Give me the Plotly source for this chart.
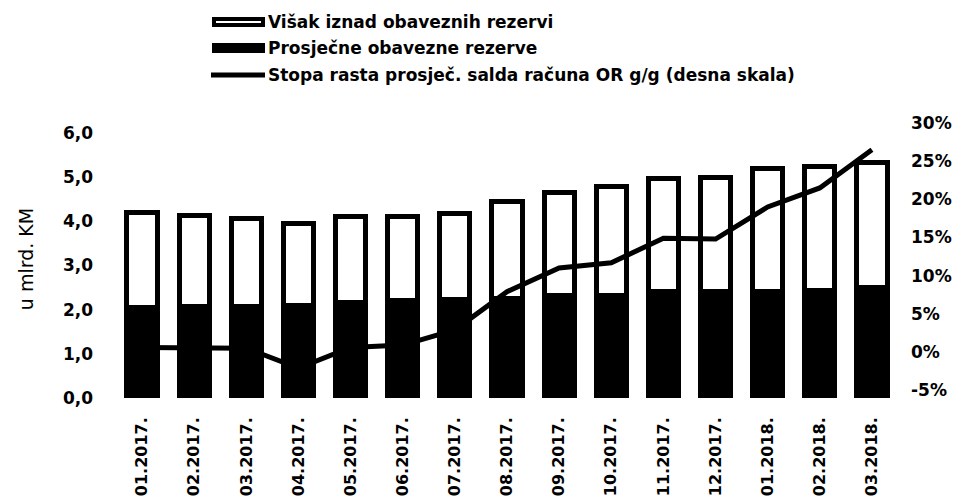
import plotly.graph_objects as go

months = ["01.2017.", "02.2017.", "03.2017.", "04.2017.", "05.2017.", "06.2017.",
          "07.2017.", "08.2017.", "09.2017.", "10.2017.", "11.2017.", "12.2017.",
          "01.2018.", "02.2018.", "03.2018."]
prosjecne_or = [2.04, 2.06, 2.08, 2.10, 2.17, 2.20, 2.24, 2.26, 2.31, 2.33, 2.40, 2.40, 2.42, 2.44, 2.49]
ukupno = [4.19, 4.12, 4.07, 3.94, 4.10, 4.10, 4.17, 4.44, 4.66, 4.78, 4.96, 5.00, 5.20, 5.23, 5.32]
visak = [round(t - r, 2) for t, r in zip(ukupno, prosjecne_or)]
stopa_rasta = [0.6, 0.5, 0.5, -2.1, 0.6, 0.9, 2.9, 7.9, 11.0, 11.7, 14.9, 14.8, 19.0, 21.5, 26.5]

left_ticks = [0, 1, 2, 3, 4, 5, 6]
left_text = ["0,0", "1,0", "2,0", "3,0", "4,0", "5,0", "6,0"]
right_ticks = [-5, 0, 5, 10, 15, 20, 25, 30]
right_text = ["-5%", "0%", "5%", "10%", "15%", "20%", "25%", "30%"]

name_visak = "Višak iznad obaveznih rezervi"
name_or = "Prosječne obavezne rezerve"
name_stopa = "Stopa rasta prosječ. salda računa OR g/g (desna skala)"

FONT = "DejaVu Sans"
tick_font = dict(family=FONT, size=17, color="black", weight="bold")
xtick_font = dict(family=FONT, size=16, color="black", weight="bold")

# the page body has an 8px margin, so the figure is drawn 8px smaller
OFF = 8
W, H = 961 - OFF, 498 - OFF
ML, MT = 116 - OFF, 120 - OFF
PLOT_RIGHT, PLOT_BOTTOM = 898 - OFF, 398 - OFF
MR, MB = W - PLOT_RIGHT, H - PLOT_BOTTOM
PW, PH = W - ML - MR, H - MT - MB


def px(x):
    return (x - OFF - ML) / PW


def py(y):
    return (PLOT_BOTTOM - (y - OFF)) / PH


fig = go.Figure()
fig.add_trace(go.Bar(
    x=months, y=prosjecne_or, name=name_or,
    marker=dict(color="black", line=dict(color="black", width=5)),
    showlegend=False,
))
fig.add_trace(go.Bar(
    x=months, y=visak, name=name_visak,
    marker=dict(color="white", line=dict(color="black", width=5)),
    showlegend=False,
))
fig.add_trace(go.Scatter(
    x=months, y=stopa_rasta, name=name_stopa,
    mode="lines", line=dict(color="black", width=5), yaxis="y2",
    showlegend=False,
))

# legend drawn as symbols + labels
legend_rows = [(name_visak, "white", 22), (name_or, "black", 48), (name_stopa, None, 75)]
shapes = []
annotations = []
for label, fill, yc in legend_rows:
    if fill is None:
        shapes.append(dict(type="line", xref="paper", yref="paper",
                           x0=px(211), x1=px(265), y0=py(yc), y1=py(yc),
                           line=dict(color="black", width=5)))
    else:
        shapes.append(dict(type="rect", xref="paper", yref="paper",
                           x0=px(214), x1=px(263), y0=py(yc - 3), y1=py(yc + 3),
                           fillcolor=fill, line=dict(color="black", width=4)))
    annotations.append(dict(text=label, xref="paper", yref="paper",
                            x=px(266), y=py(yc), xanchor="left", yanchor="middle",
                            showarrow=False,
                            font=dict(family=FONT, size=17, color="black", weight="bold")))

fig.update_layout(
    width=W, height=H,
    margin=dict(l=ML, r=MR, t=MT, b=MB, autoexpand=False),
    paper_bgcolor="white", plot_bgcolor="white",
    barmode="stack", bargap=0.42,
    showlegend=False,
    shapes=shapes, annotations=annotations,
    xaxis=dict(
        type="category", tickangle=-90, tickfont=xtick_font,
        showgrid=False, showline=False, zeroline=False, ticks="",
        ticklabelstandoff=15,
    ),
    yaxis=dict(
        range=[0, 6.29], tickvals=left_ticks, ticktext=left_text,
        tickfont=tick_font, showgrid=False, showline=False, zeroline=False,
        ticks="", ticklabelstandoff=22,
        title=dict(text="u mlrd. KM", font=dict(family=FONT, size=19, color="black"), standoff=24),
    ),
    yaxis2=dict(
        range=[-6.03, 30.4], tickvals=right_ticks, ticktext=right_text,
        overlaying="y", side="right",
        tickfont=tick_font, showgrid=False, showline=False, zeroline=False,
        ticks="", ticklabelstandoff=12,
    ),
)

fig.write_html("out.html")
